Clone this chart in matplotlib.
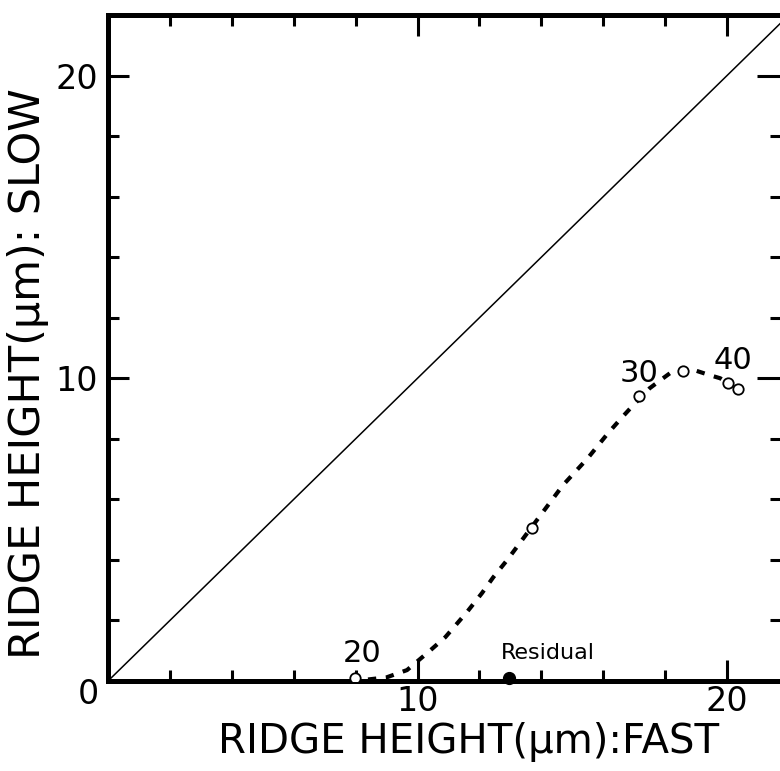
import numpy as np
import matplotlib
matplotlib.use('Agg')
import matplotlib.pyplot as plt
from matplotlib.ticker import MultipleLocator

# measured points (open circles)
open_x = [7.98, 13.7, 17.16, 18.58, 20.03, 20.36]
open_y = [0.1, 5.05, 9.4, 10.23, 9.83, 9.64]
# residual (filled)
resid_x = [12.96]
resid_y = [0.1]
# hand-drawn dotted curve
curve_x = [8.4, 9.0, 9.66, 10.4, 10.9, 11.6, 12.08, 12.45, 12.9, 13.7, 14.7, 15.5,
           16.15, 16.6, 16.96, 17.5, 17.84, 18.2, 18.58, 18.97, 19.45, 19.78, 20.03]
curve_y = [0.05, 0.12, 0.36, 1.0, 1.45, 2.28, 2.9, 3.43, 4.0, 5.1, 6.47, 7.36,
           8.18, 8.7, 9.1, 9.67, 9.93, 10.2, 10.25, 10.26, 10.1, 10.0, 9.83]
# labels along the curve
note_text = ['20', '30', '40']
note_x = [8.2, 17.16, 20.2]
note_y = [0.9, 10.16, 10.6]

fig = plt.figure(figsize=(7.8, 7.71), dpi=100)
# right spine sits just past the edge of the picture, as in the scan
ax = fig.add_axes([108/780, 90/771, 680/780, 666/771])

ax.plot([0, 25], [0, 25], color='black', lw=1.1, zorder=2)
ax.plot(curve_x, curve_y, color='black', lw=3, dashes=(2.0, 2.3), zorder=3)
ax.plot(open_x, open_y, 'o', ms=7.5, mfc='white', mec='black', mew=1.3, zorder=4)
ax.plot(resid_x, resid_y, 'o', ms=8.5, color='black', zorder=4, clip_on=False)

for t, x, y in zip(note_text, note_x, note_y):
    ax.text(x, y, t, fontsize=22, ha='center', va='center')
ax.text(14.2, 0.92, 'Residual', fontsize=16, ha='center', va='center')

ax.set_xlim(0, 21.97)
ax.set_ylim(0, 22.0)

for s in ax.spines.values():
    s.set_linewidth(3.6)

ax.xaxis.set_minor_locator(MultipleLocator(2))
ax.yaxis.set_minor_locator(MultipleLocator(2))
ax.tick_params(which='both', direction='in', top=True, right=False, width=2.2)
ax.tick_params(which='major', length=15, labelsize=24)
ax.tick_params(axis='x', which='major', pad=3)
ax.tick_params(axis='y', which='major', pad=7)
ax.tick_params(which='minor', length=8)
ax.set_xticks([10, 20])
ax.set_yticks([10, 20])
ax.set_xticklabels(['10', '20'])
ax.set_yticklabels(['10', '20'])

# right-hand ticks, longer so they reach into the picture
rt = ax.twinx()
rt.set_ylim(ax.get_ylim())
rt.set_frame_on(False)
rt.set_yticks([10, 20])
rt.yaxis.set_minor_locator(MultipleLocator(2))
rt.tick_params(which='both', direction='in', width=2.2, labelright=False)
rt.tick_params(which='major', length=22)
rt.tick_params(which='minor', length=13)

fig.text(88/780, 1 - 695/771, '0', fontsize=24, ha='center', va='center')
fig.text(469/780, 1 - 742/771, 'RIDGE HEIGHT(μm):FAST', fontsize=29, ha='center', va='center')
fig.text(28/780, 1 - 374/771, 'RIDGE HEIGHT(μm): SLOW', fontsize=31, ha='center', va='center', rotation=90)

fig.savefig('out.png', dpi=100)
